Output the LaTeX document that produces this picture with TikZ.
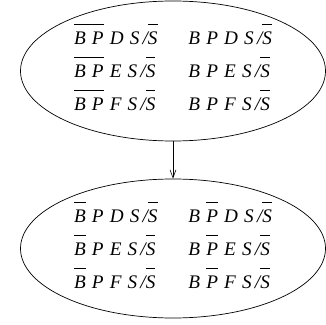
\documentclass[tikz,border=0pt]{standalone}
\usepackage{fontspec}
\setmainfont{Liberation Serif}
\usetikzlibrary{shapes.geometric, arrows.meta}
\def\ellwidth{305pt}
\def\ellheight{140pt}
\def\letgap{\hspace{0.32em}}
% bar over letters
\newcommand{\ovl}[1]{\setbox0\hbox{#1}\rlap{\rule[20pt]{\wd0}{0.6pt}}\box0}
\newcommand{\rowtext}[1]{\begin{tabular}{@{}l@{\hspace{31pt}}l@{}}#1\end{tabular}}

\begin{document}
\begin{tikzpicture}[
  every node/.style={font=\fontsize{19.2}{33}\selectfont\itshape},
  stateell/.style={ellipse, draw, line width=0.7pt, minimum width=\ellwidth, minimum height=\ellheight, inner xsep=0pt, inner ysep=-10pt},
  ]
\useasboundingbox (0,0) rectangle (326pt,324pt);

% Upper set
\node[stateell] (upper) at (173pt,253pt) {\rowtext{
\ovl{B\letgap P}\letgap D\letgap S\,/\ovl{S} & B\letgap P\letgap D\letgap S\,/\ovl{S}\\
\ovl{B\letgap P}\letgap E\letgap S\,/\ovl{S} & B\letgap P\letgap E\letgap S\,/\ovl{S}\\
\ovl{B\letgap P}\letgap F\letgap S\,/\ovl{S} & B\letgap P\letgap F\letgap S\,/\ovl{S}}};

% Lower set
\node[stateell, minimum height=139pt] (lower) at (173pt,75.5pt) {\rowtext{
\ovl{B}\letgap P\letgap D\letgap S\,/\ovl{S} & B\letgap \ovl{P}\letgap D\letgap S\,/\ovl{S}\\
\ovl{B}\letgap P\letgap E\letgap S\,/\ovl{S} & B\letgap \ovl{P}\letgap E\letgap S\,/\ovl{S}\\
\ovl{B}\letgap P\letgap F\letgap S\,/\ovl{S} & B\letgap \ovl{P}\letgap F\letgap S\,/\ovl{S}}};

\draw[line width=0.6pt, -{Straight Barb[length=8pt, width=6pt]}] (upper) -- (lower);

\end{tikzpicture}
\end{document}
